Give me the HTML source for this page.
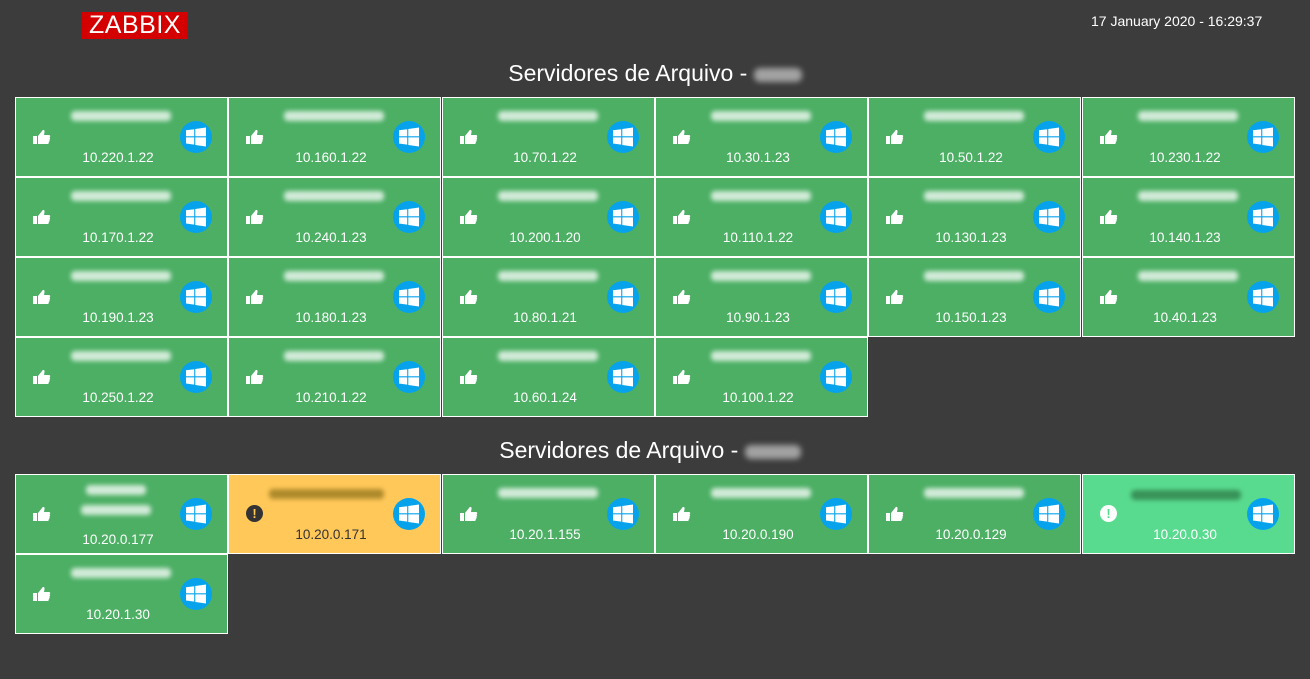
<!DOCTYPE html>
<html><head><meta charset="utf-8"><style>
body{margin:0;width:1310px;height:679px;background:#3c3c3c;font-family:"Liberation Sans",sans-serif;position:relative;overflow:hidden}
.logo{position:absolute;left:82px;top:12px;width:106px;height:27px;background:#d40000;color:#fff;font-size:25px;line-height:27px;text-align:center;letter-spacing:0.5px}
.date{position:absolute;left:1091px;top:13px;color:#fff;font-size:14px}
.title{position:absolute;left:0;width:1310px;text-align:center;color:#fff;font-size:23px}
.blob{display:inline-block;width:48px;height:14px;background:#bbb;filter:blur(3px);vertical-align:middle;border-radius:6px;opacity:.8}
.t{position:absolute;width:213px;height:80px;box-sizing:border-box;border:1px solid #fff;background:#4caf64;color:#fff}
.y{background:#ffc859;color:#333}
.lg{background:#59db8f}
.n{position:absolute;left:55px;top:13px;width:100px;height:10px;background:#fff;opacity:.75;filter:blur(2.5px);border-radius:4px}
.y .n{background:#9a7a20;opacity:.8}
.lg .n{background:#2f7f4a;opacity:.8}
.ip{position:absolute;left:0;width:204px;top:52px;text-align:center;font-size:13.5px}
.w{position:absolute;left:164px;top:23px;width:32px;height:32px;border-radius:50%;background:#06a3ec}
.w svg{position:absolute;left:6px;top:6px}
.th{position:absolute;left:17px;top:31px}
.ex{position:absolute;left:17px;top:30px;width:17px;height:17px;border-radius:50%;background:#333;color:#ffc859;font-size:13px;font-weight:bold;text-align:center;line-height:17px}
.lg .ex{background:#fff;color:#59db8f}
</style></head><body>
<div class="logo">ZABBIX</div>
<div class="date">17 January 2020 - 16:29:37</div>
<div class="title" style="top:60px">Servidores de Arquivo - <span class="blob"></span></div>
<div class="title" style="top:437px;left:-5px">Servidores de Arquivo - <span class="blob" style="width:56px"></span></div>
<svg width="0" height="0" style="position:absolute"><defs>
<g id="win"><path d="M0 3.3L8.2 2.2V9.3H0ZM9.3 2L20 0.5V9.3H9.3ZM0 10.4H8.2V17.6L0 16.5ZM9.3 10.4H20V19.5L9.3 18Z" fill="#fff"/></g>
<g id="thumb"><rect x="0" y="7" width="4" height="8" fill="#fff"/><path d="M5 7L9 2C10 0 12 1 11.5 3L11 6H16C17.5 6 17.5 8 16.5 8.5C17.5 9 17.2 10.5 16.3 10.8C17 11.5 16.6 12.8 15.7 13C16.2 14 15.5 15 14.5 15H5Z" fill="#fff"/></g>
</defs></svg>

<div class="t" style="left:15px;top:97px"><div class="n"></div><svg class="th" width="18" height="16"><use href="#thumb"/></svg><div class="ip">10.220.1.22</div><div class="w"><svg width="20" height="20"><use href="#win"/></svg></div></div>
<div class="t" style="left:228px;top:97px"><div class="n"></div><svg class="th" width="18" height="16"><use href="#thumb"/></svg><div class="ip">10.160.1.22</div><div class="w"><svg width="20" height="20"><use href="#win"/></svg></div></div>
<div class="t" style="left:442px;top:97px"><div class="n"></div><svg class="th" width="18" height="16"><use href="#thumb"/></svg><div class="ip">10.70.1.22</div><div class="w"><svg width="20" height="20"><use href="#win"/></svg></div></div>
<div class="t" style="left:655px;top:97px"><div class="n"></div><svg class="th" width="18" height="16"><use href="#thumb"/></svg><div class="ip">10.30.1.23</div><div class="w"><svg width="20" height="20"><use href="#win"/></svg></div></div>
<div class="t" style="left:868px;top:97px"><div class="n"></div><svg class="th" width="18" height="16"><use href="#thumb"/></svg><div class="ip">10.50.1.22</div><div class="w"><svg width="20" height="20"><use href="#win"/></svg></div></div>
<div class="t" style="left:1082px;top:97px"><div class="n"></div><svg class="th" width="18" height="16"><use href="#thumb"/></svg><div class="ip">10.230.1.22</div><div class="w"><svg width="20" height="20"><use href="#win"/></svg></div></div>

<div class="t" style="left:15px;top:177px"><div class="n"></div><svg class="th" width="18" height="16"><use href="#thumb"/></svg><div class="ip">10.170.1.22</div><div class="w"><svg width="20" height="20"><use href="#win"/></svg></div></div>
<div class="t" style="left:228px;top:177px"><div class="n"></div><svg class="th" width="18" height="16"><use href="#thumb"/></svg><div class="ip">10.240.1.23</div><div class="w"><svg width="20" height="20"><use href="#win"/></svg></div></div>
<div class="t" style="left:442px;top:177px"><div class="n"></div><svg class="th" width="18" height="16"><use href="#thumb"/></svg><div class="ip">10.200.1.20</div><div class="w"><svg width="20" height="20"><use href="#win"/></svg></div></div>
<div class="t" style="left:655px;top:177px"><div class="n"></div><svg class="th" width="18" height="16"><use href="#thumb"/></svg><div class="ip">10.110.1.22</div><div class="w"><svg width="20" height="20"><use href="#win"/></svg></div></div>
<div class="t" style="left:868px;top:177px"><div class="n"></div><svg class="th" width="18" height="16"><use href="#thumb"/></svg><div class="ip">10.130.1.23</div><div class="w"><svg width="20" height="20"><use href="#win"/></svg></div></div>
<div class="t" style="left:1082px;top:177px"><div class="n"></div><svg class="th" width="18" height="16"><use href="#thumb"/></svg><div class="ip">10.140.1.23</div><div class="w"><svg width="20" height="20"><use href="#win"/></svg></div></div>

<div class="t" style="left:15px;top:257px"><div class="n"></div><svg class="th" width="18" height="16"><use href="#thumb"/></svg><div class="ip">10.190.1.23</div><div class="w"><svg width="20" height="20"><use href="#win"/></svg></div></div>
<div class="t" style="left:228px;top:257px"><div class="n"></div><svg class="th" width="18" height="16"><use href="#thumb"/></svg><div class="ip">10.180.1.23</div><div class="w"><svg width="20" height="20"><use href="#win"/></svg></div></div>
<div class="t" style="left:442px;top:257px"><div class="n"></div><svg class="th" width="18" height="16"><use href="#thumb"/></svg><div class="ip">10.80.1.21</div><div class="w"><svg width="20" height="20"><use href="#win"/></svg></div></div>
<div class="t" style="left:655px;top:257px"><div class="n"></div><svg class="th" width="18" height="16"><use href="#thumb"/></svg><div class="ip">10.90.1.23</div><div class="w"><svg width="20" height="20"><use href="#win"/></svg></div></div>
<div class="t" style="left:868px;top:257px"><div class="n"></div><svg class="th" width="18" height="16"><use href="#thumb"/></svg><div class="ip">10.150.1.23</div><div class="w"><svg width="20" height="20"><use href="#win"/></svg></div></div>
<div class="t" style="left:1082px;top:257px"><div class="n"></div><svg class="th" width="18" height="16"><use href="#thumb"/></svg><div class="ip">10.40.1.23</div><div class="w"><svg width="20" height="20"><use href="#win"/></svg></div></div>

<div class="t" style="left:15px;top:337px"><div class="n"></div><svg class="th" width="18" height="16"><use href="#thumb"/></svg><div class="ip">10.250.1.22</div><div class="w"><svg width="20" height="20"><use href="#win"/></svg></div></div>
<div class="t" style="left:228px;top:337px"><div class="n"></div><svg class="th" width="18" height="16"><use href="#thumb"/></svg><div class="ip">10.210.1.22</div><div class="w"><svg width="20" height="20"><use href="#win"/></svg></div></div>
<div class="t" style="left:442px;top:337px"><div class="n"></div><svg class="th" width="18" height="16"><use href="#thumb"/></svg><div class="ip">10.60.1.24</div><div class="w"><svg width="20" height="20"><use href="#win"/></svg></div></div>
<div class="t" style="left:655px;top:337px"><div class="n"></div><svg class="th" width="18" height="16"><use href="#thumb"/></svg><div class="ip">10.100.1.22</div><div class="w"><svg width="20" height="20"><use href="#win"/></svg></div></div>

<div class="t" style="left:15px;top:474px"><div class="n" style="left:70px;width:60px;top:10px"></div><div class="n" style="left:65px;width:70px;top:30px"></div><svg class="th" width="18" height="16"><use href="#thumb"/></svg><div class="ip" style="top:57px">10.20.0.177</div><div class="w"><svg width="20" height="20"><use href="#win"/></svg></div></div>
<div class="t y" style="left:228px;top:474px"><div class="n" style="left:40px;width:115px;top:14px"></div><div class="ex">!</div><div class="ip">10.20.0.171</div><div class="w"><svg width="20" height="20"><use href="#win"/></svg></div></div>
<div class="t" style="left:442px;top:474px"><div class="n"></div><svg class="th" width="18" height="16"><use href="#thumb"/></svg><div class="ip">10.20.1.155</div><div class="w"><svg width="20" height="20"><use href="#win"/></svg></div></div>
<div class="t" style="left:655px;top:474px"><div class="n"></div><svg class="th" width="18" height="16"><use href="#thumb"/></svg><div class="ip">10.20.0.190</div><div class="w"><svg width="20" height="20"><use href="#win"/></svg></div></div>
<div class="t" style="left:868px;top:474px"><div class="n"></div><svg class="th" width="18" height="16"><use href="#thumb"/></svg><div class="ip">10.20.0.129</div><div class="w"><svg width="20" height="20"><use href="#win"/></svg></div></div>
<div class="t lg" style="left:1082px;top:474px"><div class="n" style="left:48px;width:110px;top:15px"></div><div class="ex">!</div><div class="ip">10.20.0.30</div><div class="w"><svg width="20" height="20"><use href="#win"/></svg></div></div>

<div class="t" style="left:15px;top:554px"><div class="n"></div><svg class="th" width="18" height="16"><use href="#thumb"/></svg><div class="ip">10.20.1.30</div><div class="w"><svg width="20" height="20"><use href="#win"/></svg></div></div>
</body></html>
